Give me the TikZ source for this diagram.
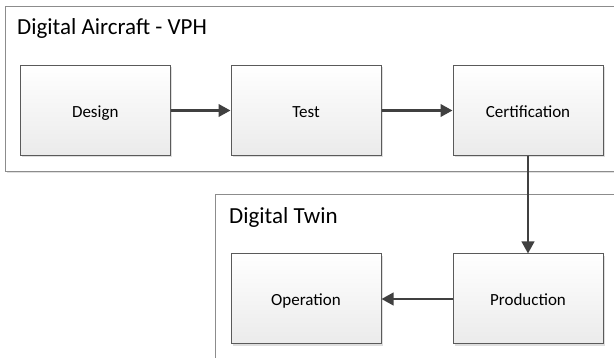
\documentclass[tikz,border=0pt]{standalone}
\usepackage{fontspec}
\setmainfont{Carlito}
\usetikzlibrary{arrows.meta,shadows}
\definecolor{framec}{HTML}{8C8C8C}
\definecolor{boxc}{HTML}{5A5A5A}
\definecolor{arrc}{HTML}{404040}
\tikzset{
  frame/.style={draw=framec, line width=1pt, fill=white,
    drop shadow={shadow xshift=1.5pt, shadow yshift=-1.5pt, fill=black!12, opacity=1}},
  stepbox/.style={draw=boxc, line width=1pt, top color=white, bottom color=black!8,
    minimum width=150pt, minimum height=90pt, inner sep=0pt, font=\fontsize{17}{19}\selectfont,
    text height=15pt, text depth=1pt,
    drop shadow={shadow xshift=2pt, shadow yshift=-2pt, fill=black!13, opacity=1}},
  flow/.style={draw=arrc, line width=2.4pt, -{Triangle[length=12pt,width=12.5pt]}},
  title/.style={anchor=base west, inner sep=0pt, font=\fontsize{23}{26}\selectfont}
}
\begin{document}
\begin{tikzpicture}[x=1pt,y=-1pt]
\useasboundingbox (0,0) rectangle (614,358);
\fill[white] (0,0) rectangle (614,358);
\node[frame, anchor=north west, minimum width=625pt, minimum height=165pt, inner sep=0pt] (f1) at (5,6) {};
\node[frame, anchor=north west, minimum width=410pt, minimum height=175pt, inner sep=0pt] (f2) at (215,194) {};
\node[title] (t1) at (17,35) {Digital Aircraft - VPH};
\node[title] (t2) at (229,224) {Digital Twin};
\node[stepbox] (design) at (95.25,110.5) {Design};
\node[stepbox] (test) at (306,110.5) {Test};
\node[stepbox] (cert) at (528,110.5) {Certification};
\node[stepbox] (oper) at (306,299) {Operation};
\node[stepbox] (prod) at (528,299) {Production};
\draw[flow] (design) -- (test);
\draw[flow] (test) -- (cert);
\draw[flow] (cert) -- (prod);
\draw[flow] (prod) -- (oper);
\end{tikzpicture}
\end{document}
